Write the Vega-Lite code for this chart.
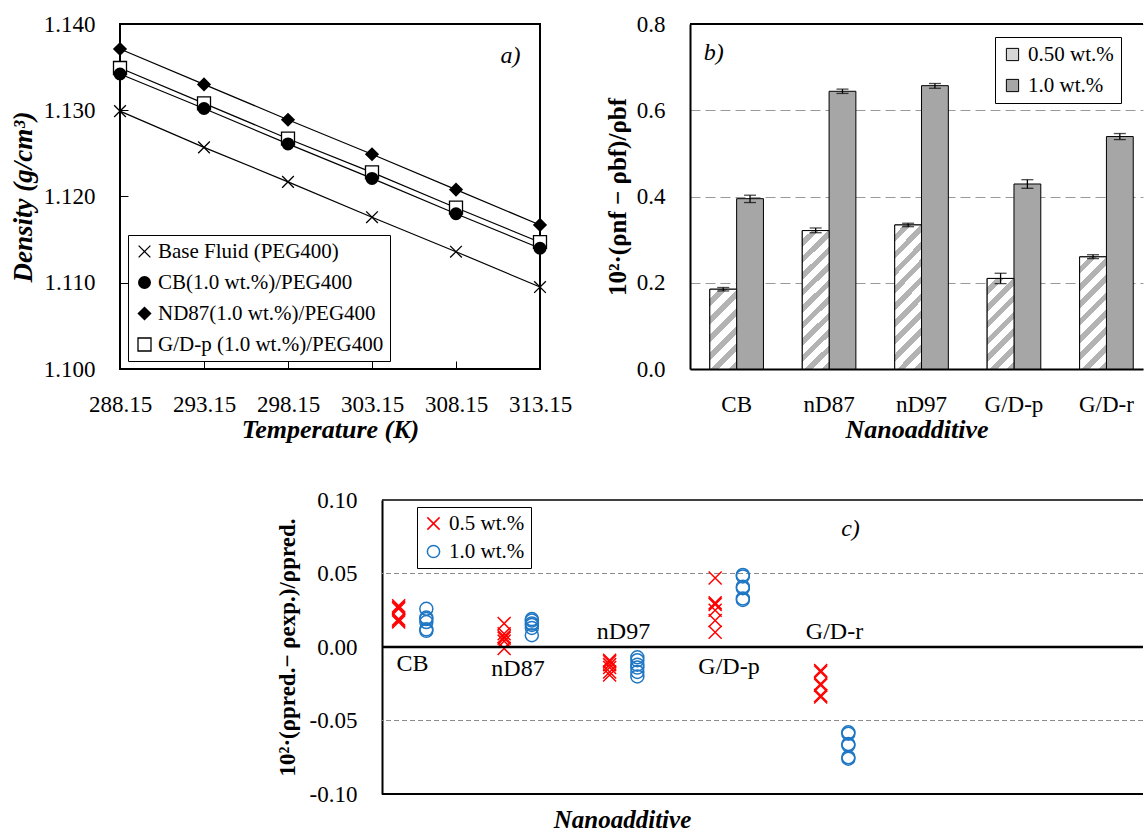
{
  "$schema": "https://vega.github.io/schema/vega-lite/v6.json",
  "background": "white",
  "padding": {"left": 8, "top": 12, "right": 0, "bottom": 0},
  "config": {
    "font": "Liberation Serif",
    "view": {"stroke": null},
    "axis": {"labelFont": "Liberation Serif", "titleFont": "Liberation Serif", "labelColor": "black", "titleColor": "black", "labelFontSize": 23, "titleFontSize": 26, "domainColor": "black", "tickColor": "black", "grid": false, "labelOverlap": false, "labelFlush": false},
    "legend": {"labelFont": "Liberation Serif", "labelColor": "black", "labelFontSize": 21, "titleFont": "Liberation Serif", "labelLimit": 0}
  },
  "datasets": {
    "one": [{"k": 1}],
    "dens": [
      {"series": "Base Fluid (PEG400)", "T": 288.15, "rho": 1.1299},
      {"series": "Base Fluid (PEG400)", "T": 293.15, "rho": 1.1257},
      {"series": "Base Fluid (PEG400)", "T": 298.15, "rho": 1.1217},
      {"series": "Base Fluid (PEG400)", "T": 303.15, "rho": 1.1176},
      {"series": "Base Fluid (PEG400)", "T": 308.15, "rho": 1.1136},
      {"series": "Base Fluid (PEG400)", "T": 313.15, "rho": 1.1095},
      {"series": "CB(1.0 wt.%)/PEG400", "T": 288.15, "rho": 1.1342},
      {"series": "CB(1.0 wt.%)/PEG400", "T": 293.15, "rho": 1.1302},
      {"series": "CB(1.0 wt.%)/PEG400", "T": 298.15, "rho": 1.1261},
      {"series": "CB(1.0 wt.%)/PEG400", "T": 303.15, "rho": 1.1221},
      {"series": "CB(1.0 wt.%)/PEG400", "T": 308.15, "rho": 1.1180},
      {"series": "CB(1.0 wt.%)/PEG400", "T": 313.15, "rho": 1.1140},
      {"series": "ND87(1.0 wt.%)/PEG400", "T": 288.15, "rho": 1.1371},
      {"series": "ND87(1.0 wt.%)/PEG400", "T": 293.15, "rho": 1.1330},
      {"series": "ND87(1.0 wt.%)/PEG400", "T": 298.15, "rho": 1.1289},
      {"series": "ND87(1.0 wt.%)/PEG400", "T": 303.15, "rho": 1.1249},
      {"series": "ND87(1.0 wt.%)/PEG400", "T": 308.15, "rho": 1.1208},
      {"series": "ND87(1.0 wt.%)/PEG400", "T": 313.15, "rho": 1.1167},
      {"series": "G/D-p (1.0 wt.%)/PEG400", "T": 288.15, "rho": 1.1349},
      {"series": "G/D-p (1.0 wt.%)/PEG400", "T": 293.15, "rho": 1.1308},
      {"series": "G/D-p (1.0 wt.%)/PEG400", "T": 298.15, "rho": 1.1267},
      {"series": "G/D-p (1.0 wt.%)/PEG400", "T": 303.15, "rho": 1.1228},
      {"series": "G/D-p (1.0 wt.%)/PEG400", "T": 308.15, "rho": 1.1187},
      {"series": "G/D-p (1.0 wt.%)/PEG400", "T": 313.15, "rho": 1.1147}
    ],
    "rel": [
      {"nano": "CB", "conc": "0.50 wt.%", "val": 0.185, "lo": 0.181, "hi": 0.189},
      {"nano": "CB", "conc": "1.0 wt.%", "val": 0.395, "lo": 0.386, "hi": 0.403},
      {"nano": "nD87", "conc": "0.50 wt.%", "val": 0.321, "lo": 0.316, "hi": 0.327},
      {"nano": "nD87", "conc": "1.0 wt.%", "val": 0.644, "lo": 0.639, "hi": 0.649},
      {"nano": "nD97", "conc": "0.50 wt.%", "val": 0.334, "lo": 0.330, "hi": 0.338},
      {"nano": "nD97", "conc": "1.0 wt.%", "val": 0.657, "lo": 0.651, "hi": 0.662},
      {"nano": "G/D-p", "conc": "0.50 wt.%", "val": 0.210, "lo": 0.198, "hi": 0.222},
      {"nano": "G/D-p", "conc": "1.0 wt.%", "val": 0.429, "lo": 0.419, "hi": 0.439},
      {"nano": "G/D-r", "conc": "0.50 wt.%", "val": 0.260, "lo": 0.256, "hi": 0.265},
      {"nano": "G/D-r", "conc": "1.0 wt.%", "val": 0.539, "lo": 0.532, "hi": 0.546}
    ],
    "dev": [
      {"nano": "CB", "conc": "0.5 wt.%", "dev": 0.028},
      {"nano": "CB", "conc": "0.5 wt.%", "dev": 0.027},
      {"nano": "CB", "conc": "0.5 wt.%", "dev": 0.026},
      {"nano": "CB", "conc": "0.5 wt.%", "dev": 0.019},
      {"nano": "CB", "conc": "0.5 wt.%", "dev": 0.018},
      {"nano": "CB", "conc": "0.5 wt.%", "dev": 0.017},
      {"nano": "CB", "conc": "1.0 wt.%", "dev": 0.026},
      {"nano": "CB", "conc": "1.0 wt.%", "dev": 0.020},
      {"nano": "CB", "conc": "1.0 wt.%", "dev": 0.019},
      {"nano": "CB", "conc": "1.0 wt.%", "dev": 0.017},
      {"nano": "CB", "conc": "1.0 wt.%", "dev": 0.012},
      {"nano": "CB", "conc": "1.0 wt.%", "dev": 0.011},
      {"nano": "nD87", "conc": "0.5 wt.%", "dev": 0.016},
      {"nano": "nD87", "conc": "0.5 wt.%", "dev": 0.009},
      {"nano": "nD87", "conc": "0.5 wt.%", "dev": 0.007},
      {"nano": "nD87", "conc": "0.5 wt.%", "dev": 0.006},
      {"nano": "nD87", "conc": "0.5 wt.%", "dev": 0.004},
      {"nano": "nD87", "conc": "0.5 wt.%", "dev": -0.001},
      {"nano": "nD87", "conc": "1.0 wt.%", "dev": 0.019},
      {"nano": "nD87", "conc": "1.0 wt.%", "dev": 0.018},
      {"nano": "nD87", "conc": "1.0 wt.%", "dev": 0.016},
      {"nano": "nD87", "conc": "1.0 wt.%", "dev": 0.015},
      {"nano": "nD87", "conc": "1.0 wt.%", "dev": 0.013},
      {"nano": "nD87", "conc": "1.0 wt.%", "dev": 0.008},
      {"nano": "nD97", "conc": "0.5 wt.%", "dev": -0.009},
      {"nano": "nD97", "conc": "0.5 wt.%", "dev": -0.010},
      {"nano": "nD97", "conc": "0.5 wt.%", "dev": -0.012},
      {"nano": "nD97", "conc": "0.5 wt.%", "dev": -0.014},
      {"nano": "nD97", "conc": "0.5 wt.%", "dev": -0.017},
      {"nano": "nD97", "conc": "0.5 wt.%", "dev": -0.019},
      {"nano": "nD97", "conc": "1.0 wt.%", "dev": -0.007},
      {"nano": "nD97", "conc": "1.0 wt.%", "dev": -0.009},
      {"nano": "nD97", "conc": "1.0 wt.%", "dev": -0.012},
      {"nano": "nD97", "conc": "1.0 wt.%", "dev": -0.014},
      {"nano": "nD97", "conc": "1.0 wt.%", "dev": -0.017},
      {"nano": "nD97", "conc": "1.0 wt.%", "dev": -0.020},
      {"nano": "G/D-p", "conc": "0.5 wt.%", "dev": 0.047},
      {"nano": "G/D-p", "conc": "0.5 wt.%", "dev": 0.030},
      {"nano": "G/D-p", "conc": "0.5 wt.%", "dev": 0.029},
      {"nano": "G/D-p", "conc": "0.5 wt.%", "dev": 0.025},
      {"nano": "G/D-p", "conc": "0.5 wt.%", "dev": 0.018},
      {"nano": "G/D-p", "conc": "0.5 wt.%", "dev": 0.010},
      {"nano": "G/D-p", "conc": "1.0 wt.%", "dev": 0.049},
      {"nano": "G/D-p", "conc": "1.0 wt.%", "dev": 0.048},
      {"nano": "G/D-p", "conc": "1.0 wt.%", "dev": 0.041},
      {"nano": "G/D-p", "conc": "1.0 wt.%", "dev": 0.040},
      {"nano": "G/D-p", "conc": "1.0 wt.%", "dev": 0.033},
      {"nano": "G/D-p", "conc": "1.0 wt.%", "dev": 0.032},
      {"nano": "G/D-r", "conc": "0.5 wt.%", "dev": -0.016},
      {"nano": "G/D-r", "conc": "0.5 wt.%", "dev": -0.017},
      {"nano": "G/D-r", "conc": "0.5 wt.%", "dev": -0.025},
      {"nano": "G/D-r", "conc": "0.5 wt.%", "dev": -0.026},
      {"nano": "G/D-r", "conc": "0.5 wt.%", "dev": -0.033},
      {"nano": "G/D-r", "conc": "0.5 wt.%", "dev": -0.034},
      {"nano": "G/D-r", "conc": "1.0 wt.%", "dev": -0.058},
      {"nano": "G/D-r", "conc": "1.0 wt.%", "dev": -0.059},
      {"nano": "G/D-r", "conc": "1.0 wt.%", "dev": -0.066},
      {"nano": "G/D-r", "conc": "1.0 wt.%", "dev": -0.067},
      {"nano": "G/D-r", "conc": "1.0 wt.%", "dev": -0.075},
      {"nano": "G/D-r", "conc": "1.0 wt.%", "dev": -0.076}
    ],
    "clab": [
      {"nano": "CB", "ly": -0.0113},
      {"nano": "nD87", "ly": -0.0152},
      {"nano": "nD97", "ly": 0.0103},
      {"nano": "G/D-p", "ly": -0.0135},
      {"nano": "G/D-r", "ly": 0.0103}
    ]
  },
  "spacing": 46,
  "resolve": {"scale": {"x": "independent", "y": "independent", "xOffset": "independent", "shape": "independent", "fill": "independent", "color": "independent"}, "legend": {"shape": "independent", "fill": "independent", "color": "independent"}},
  "vconcat": [
    {
      "spacing": 150,
      "bounds": "flush",
      "resolve": {"scale": {"x": "independent", "y": "independent", "xOffset": "independent", "shape": "independent", "fill": "independent", "color": "independent"}, "legend": {"shape": "independent", "fill": "independent", "color": "independent"}},
      "hconcat": [
        {
          "width": 420,
          "height": 345,
          "view": {"stroke": "black", "strokeWidth": 2},
          "layer": [
            {
              "data": {"name": "dens"},
              "mark": {"type": "line", "color": "black", "strokeWidth": 1.2},
              "encoding": {
                "x": {"field": "T", "type": "quantitative", "scale": {"domain": [288.15, 313.15], "nice": false, "zero": false},
                  "axis": {"values": [288.15, 293.15, 298.15, 303.15, 308.15, 313.15], "format": ".2f", "title": "Temperature (K)", "titleFontStyle": "italic", "titleFontWeight": "bold", "domain": false, "tickSize": -8, "labelPadding": 32, "titlePadding": 0}},
                "y": {"field": "rho", "type": "quantitative", "scale": {"domain": [1.1, 1.14], "nice": false, "zero": false},
                  "axis": {"values": [1.1, 1.11, 1.12, 1.13, 1.14], "format": ".3f", "title": "Density (g/cm³)", "titleFontStyle": "italic", "titleFontWeight": "bold", "titleFontSize": 27, "domain": false, "tickSize": -8, "labelPadding": 33, "titlePadding": 6}},
                "detail": {"field": "series"}
              }
            },
            {
              "data": {"name": "dens"},
              "transform": [{"filter": "datum.series === 'G/D-p (1.0 wt.%)/PEG400'"}],
              "mark": {"type": "point", "filled": true, "color": "white", "shape": "square", "size": 150, "opacity": 1},
              "encoding": {
                "x": {"field": "T", "type": "quantitative"},
                "y": {"field": "rho", "type": "quantitative"}
              }
            },
            {
              "data": {"name": "dens"},
              "mark": {"type": "point", "filled": false, "color": "black", "strokeWidth": 1.3, "size": 169, "opacity": 1},
              "encoding": {
                "x": {"field": "T", "type": "quantitative"},
                "y": {"field": "rho", "type": "quantitative"},
                "shape": {"field": "series", "type": "nominal",
                  "scale": {"domain": ["Base Fluid (PEG400)", "CB(1.0 wt.%)/PEG400", "ND87(1.0 wt.%)/PEG400", "G/D-p (1.0 wt.%)/PEG400"], "range": [
                    "M-0.9,-0.9L0.9,0.9M-0.9,0.9L0.9,-0.9",
                    "M0.1,0A0.1,0.1,0,1,1,-0.1,0A0.1,0.1,0,1,1,0.1,0M0.3,0A0.3,0.3,0,1,1,-0.3,0A0.3,0.3,0,1,1,0.3,0M0.5,0A0.5,0.5,0,1,1,-0.5,0A0.5,0.5,0,1,1,0.5,0M0.7,0A0.7,0.7,0,1,1,-0.7,0A0.7,0.7,0,1,1,0.7,0M0.9,0A0.9,0.9,0,1,1,-0.9,0A0.9,0.9,0,1,1,0.9,0",
                    "M-0.1,0L0,-0.1L0.1,0L0,0.1ZM-0.3,0L0,-0.3L0.3,0L0,0.3ZM-0.5,0L0,-0.5L0.5,0L0,0.5ZM-0.7,0L0,-0.7L0.7,0L0,0.7ZM-0.95,0L0,-0.95L0.95,0L0,0.95Z",
                    "square"]},
                  "legend": {"orient": "none", "legendX": 8, "legendY": 211, "title": null, "strokeColor": "black", "fillColor": "white", "padding": 6, "labelFontSize": 21, "symbolSize": 169, "rowPadding": 9, "labelOffset": 3, "symbolStrokeColor": "black", "symbolStrokeWidth": 1.3}}
              }
            },
            {
              "data": {"name": "one"},
              "mark": {"type": "text", "fontStyle": "italic", "fontWeight": "normal", "fontSize": 24, "color": "black"},
              "encoding": {"x": {"datum": 311.4, "type": "quantitative"}, "y": {"datum": 1.1363, "type": "quantitative"}, "text": {"value": "a)"}}
            }
          ]
        },
        {
          "width": 453,
          "height": 345,
          "layer": [
            {
              "data": {"name": "rel"},
              "mark": {"type": "bar", "stroke": "black", "strokeWidth": 1},
              "encoding": {
                "x": {"field": "nano", "type": "nominal", "scale": {"domain": ["CB", "nD87", "nD97", "G/D-p", "G/D-r"], "paddingInner": 0.42, "paddingOuter": 0.16, "align": 0.67},
                  "axis": {"title": "Nanoadditive", "titleFontStyle": "italic", "titleFontWeight": "bold", "labelAngle": 0, "ticks": false, "domainWidth": 2, "labelPadding": 24, "titlePadding": 0}},
                "xOffset": {"field": "conc", "type": "nominal", "scale": {"domain": ["0.50 wt.%", "1.0 wt.%"]}},
                "y": {"field": "val", "type": "quantitative", "scale": {"domain": [0, 0.8], "nice": false},
                  "axis": {"values": [0, 0.2, 0.4, 0.6, 0.8], "format": ".1f", "grid": true, "gridDash": [10, 5], "gridColor": "#999999", "gridWidth": 1.2, "ticks": false, "domainWidth": 2, "labelPadding": 25, "title": "10²·(ρnf − ρbf)/ρbf", "titleFontWeight": "bold", "titleFontSize": 25, "titlePadding": 6}},
                "fill": {"field": "conc", "type": "nominal", "scale": {"domain": ["0.50 wt.%", "1.0 wt.%"], "range": ["#d6d6d6", "#a6a6a6"]},
                  "legend": {"orient": "none", "legendX": 305, "legendY": 13, "title": null, "strokeColor": "black", "fillColor": "white", "padding": 7, "labelFontSize": 21, "symbolType": "square", "symbolSize": 150, "rowPadding": 9, "labelOffset": 5, "symbolStrokeColor": "black", "symbolStrokeWidth": 1}}
              }
            },
            {
              "data": {"name": "rel"},
              "transform": [{"filter": "datum.nano === 'CB' && datum.conc === '0.50 wt.%'"}],
              "mark": {"type": "bar", "stroke": "black", "strokeWidth": 1, "fill": {"gradient": "linear", "x1": 0, "y1": 0, "x2": 0.404, "y2": 1.2006, "stops": [
                {"offset": 0, "color": "white"}, {"offset": 0.0917, "color": "white"}, {"offset": 0.0917, "color": "#b3b3b3"}, {"offset": 0.1667, "color": "#b3b3b3"},
                {"offset": 0.1667, "color": "white"}, {"offset": 0.2583, "color": "white"}, {"offset": 0.2583, "color": "#b3b3b3"}, {"offset": 0.3333, "color": "#b3b3b3"},
                {"offset": 0.3333, "color": "white"}, {"offset": 0.425, "color": "white"}, {"offset": 0.425, "color": "#b3b3b3"}, {"offset": 0.5, "color": "#b3b3b3"},
                {"offset": 0.5, "color": "white"}, {"offset": 0.5917, "color": "white"}, {"offset": 0.5917, "color": "#b3b3b3"}, {"offset": 0.6667, "color": "#b3b3b3"},
                {"offset": 0.6667, "color": "white"}, {"offset": 0.7583, "color": "white"}, {"offset": 0.7583, "color": "#b3b3b3"}, {"offset": 0.8333, "color": "#b3b3b3"},
                {"offset": 0.8333, "color": "white"}, {"offset": 0.925, "color": "white"}, {"offset": 0.925, "color": "#b3b3b3"}, {"offset": 1, "color": "#b3b3b3"}]}},
              "encoding": {
                "x": {"field": "nano", "type": "nominal", "scale": {"domain": ["CB", "nD87", "nD97", "G/D-p", "G/D-r"]}},
                "xOffset": {"field": "conc", "type": "nominal", "scale": {"domain": ["0.50 wt.%", "1.0 wt.%"]}},
                "y": {"field": "val", "type": "quantitative"}
              }
            },
            {
              "data": {"name": "rel"},
              "transform": [{"filter": "(datum.nano === 'nD87' || datum.nano === 'nD97') && datum.conc === '0.50 wt.%'"}],
              "mark": {"type": "bar", "stroke": "black", "strokeWidth": 1, "fill": {"gradient": "linear", "x1": 0, "y1": 0, "x2": 0.218, "y2": 1.148, "stops": [
                {"offset": 0, "color": "white"}, {"offset": 0.055, "color": "white"}, {"offset": 0.055, "color": "#b3b3b3"}, {"offset": 0.1, "color": "#b3b3b3"},
                {"offset": 0.1, "color": "white"}, {"offset": 0.155, "color": "white"}, {"offset": 0.155, "color": "#b3b3b3"}, {"offset": 0.2, "color": "#b3b3b3"},
                {"offset": 0.2, "color": "white"}, {"offset": 0.255, "color": "white"}, {"offset": 0.255, "color": "#b3b3b3"}, {"offset": 0.3, "color": "#b3b3b3"},
                {"offset": 0.3, "color": "white"}, {"offset": 0.355, "color": "white"}, {"offset": 0.355, "color": "#b3b3b3"}, {"offset": 0.4, "color": "#b3b3b3"},
                {"offset": 0.4, "color": "white"}, {"offset": 0.455, "color": "white"}, {"offset": 0.455, "color": "#b3b3b3"}, {"offset": 0.5, "color": "#b3b3b3"},
                {"offset": 0.5, "color": "white"}, {"offset": 0.555, "color": "white"}, {"offset": 0.555, "color": "#b3b3b3"}, {"offset": 0.6, "color": "#b3b3b3"},
                {"offset": 0.6, "color": "white"}, {"offset": 0.655, "color": "white"}, {"offset": 0.655, "color": "#b3b3b3"}, {"offset": 0.7, "color": "#b3b3b3"},
                {"offset": 0.7, "color": "white"}, {"offset": 0.755, "color": "white"}, {"offset": 0.755, "color": "#b3b3b3"}, {"offset": 0.8, "color": "#b3b3b3"},
                {"offset": 0.8, "color": "white"}, {"offset": 0.855, "color": "white"}, {"offset": 0.855, "color": "#b3b3b3"}, {"offset": 0.9, "color": "#b3b3b3"},
                {"offset": 0.9, "color": "white"}, {"offset": 0.955, "color": "white"}, {"offset": 0.955, "color": "#b3b3b3"}, {"offset": 1, "color": "#b3b3b3"}]}},
              "encoding": {
                "x": {"field": "nano", "type": "nominal", "scale": {"domain": ["CB", "nD87", "nD97", "G/D-p", "G/D-r"]}},
                "xOffset": {"field": "conc", "type": "nominal", "scale": {"domain": ["0.50 wt.%", "1.0 wt.%"]}},
                "y": {"field": "val", "type": "quantitative"}
              }
            },
            {
              "data": {"name": "rel"},
              "transform": [{"filter": "datum.nano === 'G/D-p' && datum.conc === '0.50 wt.%'"}],
              "mark": {"type": "bar", "stroke": "black", "strokeWidth": 1, "fill": {"gradient": "linear", "x1": 0, "y1": 0, "x2": 0.3532, "y2": 1.1917, "stops": [
                {"offset": 0, "color": "white"}, {"offset": 0.0786, "color": "white"}, {"offset": 0.0786, "color": "#b3b3b3"}, {"offset": 0.1429, "color": "#b3b3b3"},
                {"offset": 0.1429, "color": "white"}, {"offset": 0.2214, "color": "white"}, {"offset": 0.2214, "color": "#b3b3b3"}, {"offset": 0.2857, "color": "#b3b3b3"},
                {"offset": 0.2857, "color": "white"}, {"offset": 0.3643, "color": "white"}, {"offset": 0.3643, "color": "#b3b3b3"}, {"offset": 0.4286, "color": "#b3b3b3"},
                {"offset": 0.4286, "color": "white"}, {"offset": 0.5071, "color": "white"}, {"offset": 0.5071, "color": "#b3b3b3"}, {"offset": 0.5714, "color": "#b3b3b3"},
                {"offset": 0.5714, "color": "white"}, {"offset": 0.65, "color": "white"}, {"offset": 0.65, "color": "#b3b3b3"}, {"offset": 0.7143, "color": "#b3b3b3"},
                {"offset": 0.7143, "color": "white"}, {"offset": 0.7929, "color": "white"}, {"offset": 0.7929, "color": "#b3b3b3"}, {"offset": 0.8571, "color": "#b3b3b3"},
                {"offset": 0.8571, "color": "white"}, {"offset": 0.9357, "color": "white"}, {"offset": 0.9357, "color": "#b3b3b3"}, {"offset": 1, "color": "#b3b3b3"}]}},
              "encoding": {
                "x": {"field": "nano", "type": "nominal", "scale": {"domain": ["CB", "nD87", "nD97", "G/D-p", "G/D-r"]}},
                "xOffset": {"field": "conc", "type": "nominal", "scale": {"domain": ["0.50 wt.%", "1.0 wt.%"]}},
                "y": {"field": "val", "type": "quantitative"}
              }
            },
            {
              "data": {"name": "rel"},
              "transform": [{"filter": "datum.nano === 'G/D-r' && datum.conc === '0.50 wt.%'"}],
              "mark": {"type": "bar", "stroke": "black", "strokeWidth": 1, "fill": {"gradient": "linear", "x1": 0, "y1": 0, "x2": 0.2808, "y2": 1.1723, "stops": [
                {"offset": 0, "color": "white"}, {"offset": 0.0688, "color": "white"}, {"offset": 0.0688, "color": "#b3b3b3"}, {"offset": 0.125, "color": "#b3b3b3"},
                {"offset": 0.125, "color": "white"}, {"offset": 0.1938, "color": "white"}, {"offset": 0.1938, "color": "#b3b3b3"}, {"offset": 0.25, "color": "#b3b3b3"},
                {"offset": 0.25, "color": "white"}, {"offset": 0.3188, "color": "white"}, {"offset": 0.3188, "color": "#b3b3b3"}, {"offset": 0.375, "color": "#b3b3b3"},
                {"offset": 0.375, "color": "white"}, {"offset": 0.4438, "color": "white"}, {"offset": 0.4438, "color": "#b3b3b3"}, {"offset": 0.5, "color": "#b3b3b3"},
                {"offset": 0.5, "color": "white"}, {"offset": 0.5688, "color": "white"}, {"offset": 0.5688, "color": "#b3b3b3"}, {"offset": 0.625, "color": "#b3b3b3"},
                {"offset": 0.625, "color": "white"}, {"offset": 0.6938, "color": "white"}, {"offset": 0.6938, "color": "#b3b3b3"}, {"offset": 0.75, "color": "#b3b3b3"},
                {"offset": 0.75, "color": "white"}, {"offset": 0.8188, "color": "white"}, {"offset": 0.8188, "color": "#b3b3b3"}, {"offset": 0.875, "color": "#b3b3b3"},
                {"offset": 0.875, "color": "white"}, {"offset": 0.9438, "color": "white"}, {"offset": 0.9438, "color": "#b3b3b3"}, {"offset": 1, "color": "#b3b3b3"}]}},
              "encoding": {
                "x": {"field": "nano", "type": "nominal", "scale": {"domain": ["CB", "nD87", "nD97", "G/D-p", "G/D-r"]}},
                "xOffset": {"field": "conc", "type": "nominal", "scale": {"domain": ["0.50 wt.%", "1.0 wt.%"]}},
                "y": {"field": "val", "type": "quantitative"}
              }
            },
            {
              "data": {"name": "rel"},
              "mark": {"type": "rule", "color": "black", "strokeWidth": 1.3},
              "encoding": {
                "x": {"field": "nano", "type": "nominal", "scale": {"domain": ["CB", "nD87", "nD97", "G/D-p", "G/D-r"]}},
                "xOffset": {"field": "conc", "type": "nominal", "scale": {"domain": ["0.50 wt.%", "1.0 wt.%"]}},
                "y": {"field": "lo", "type": "quantitative"},
                "y2": {"field": "hi"}
              }
            },
            {
              "data": {"name": "rel"},
              "mark": {"type": "tick", "orient": "horizontal", "color": "black", "thickness": 1.3, "size": 12},
              "encoding": {
                "x": {"field": "nano", "type": "nominal", "scale": {"domain": ["CB", "nD87", "nD97", "G/D-p", "G/D-r"]}},
                "xOffset": {"field": "conc", "type": "nominal", "scale": {"domain": ["0.50 wt.%", "1.0 wt.%"]}},
                "y": {"field": "lo", "type": "quantitative"}
              }
            },
            {
              "data": {"name": "rel"},
              "mark": {"type": "tick", "orient": "horizontal", "color": "black", "thickness": 1.3, "size": 12},
              "encoding": {
                "x": {"field": "nano", "type": "nominal", "scale": {"domain": ["CB", "nD87", "nD97", "G/D-p", "G/D-r"]}},
                "xOffset": {"field": "conc", "type": "nominal", "scale": {"domain": ["0.50 wt.%", "1.0 wt.%"]}},
                "y": {"field": "hi", "type": "quantitative"}
              }
            },
            {
              "data": {"name": "one"},
              "mark": {"type": "rule", "color": "black", "strokeWidth": 2},
              "encoding": {"y": {"datum": 0.8, "type": "quantitative"}}
            },
            {
              "data": {"name": "one"},
              "mark": {"type": "text", "fontStyle": "italic", "fontWeight": "normal", "fontSize": 24, "color": "black", "align": "left", "dx": -6},
              "encoding": {"x": {"datum": "CB", "type": "nominal", "bandPosition": 0}, "y": {"datum": 0.733, "type": "quantitative"}, "text": {"value": "b)"}}
            }
          ]
        }
      ]
    },
    {
      "spacing": 150,
      "bounds": "flush",
      "resolve": {"scale": {"x": "independent", "y": "independent", "xOffset": "independent", "shape": "independent", "fill": "independent", "color": "independent"}, "legend": {"shape": "independent", "fill": "independent", "color": "independent"}},
      "hconcat": [
        {
          "width": 112,
          "height": 10,
          "data": {"values": []},
          "mark": {"type": "point", "opacity": 0},
          "encoding": {}
        },
        {
          "width": 761,
          "height": 294,
          "layer": [
            {
              "data": {"name": "one"},
              "mark": {"type": "rule", "color": "#8c8c8c", "strokeWidth": 1, "strokeDash": [5, 3]},
              "encoding": {"y": {"datum": 0.05, "type": "quantitative"}}
            },
            {
              "data": {"name": "one"},
              "mark": {"type": "rule", "color": "#8c8c8c", "strokeWidth": 1, "strokeDash": [5, 3]},
              "encoding": {"y": {"datum": -0.05, "type": "quantitative"}}
            },
            {
              "data": {"name": "dev"},
              "mark": {"type": "point", "filled": false, "size": 169, "strokeWidth": 1.5, "opacity": 1},
              "encoding": {
                "x": {"field": "nano", "type": "nominal", "scale": {"domain": ["CB", "nD87", "nD97", "G/D-p", "G/D-r"], "range": [2.8, 480.2], "paddingInner": 0.475, "paddingOuter": 0},
                  "axis": {"title": "Nanoadditive", "titleFontStyle": "italic", "titleFontWeight": "bold", "titleFontSize": 25, "labels": false, "ticks": false, "domain": false, "titleX": 240, "titlePadding": 13}},
                "xOffset": {"field": "conc", "type": "nominal", "scale": {"domain": ["0.5 wt.%", "1.0 wt.%"]}},
                "y": {"field": "dev", "type": "quantitative", "scale": {"domain": [-0.1, 0.1], "nice": false},
                  "axis": {"values": [-0.1, -0.05, 0, 0.05, 0.1], "format": ".2f", "labelExpr": "replace(datum.label, '−', '-')", "grid": false, "ticks": false, "domainWidth": 2, "labelPadding": 25, "title": "10²·(ρpred.− ρexp.)/ρpred.", "titleFontWeight": "bold", "titleFontSize": 23, "titlePadding": 10}},
                "shape": {"field": "conc", "type": "nominal", "scale": {"domain": ["0.5 wt.%", "1.0 wt.%"], "range": ["M-1,-1L1,1M-1,1L1,-1", "circle"]},
                  "legend": {"orient": "none", "legendX": 35, "legendY": 7, "title": null, "strokeColor": "black", "fillColor": "white", "padding": 6, "labelFontSize": 21, "symbolSize": 150, "symbolStrokeWidth": 1.5, "rowPadding": 6, "labelOffset": 5}},
                "color": {"field": "conc", "type": "nominal", "scale": {"domain": ["0.5 wt.%", "1.0 wt.%"], "range": ["#ff0000", "#1f77c4"]},
                  "legend": {"orient": "none", "legendX": 35, "legendY": 7, "title": null, "strokeColor": "black", "fillColor": "white", "padding": 6, "labelFontSize": 21, "symbolSize": 150, "symbolStrokeWidth": 1.5, "rowPadding": 6, "labelOffset": 5}}
              }
            },
            {
              "data": {"name": "one"},
              "mark": {"type": "rule", "color": "black", "strokeWidth": 1.5},
              "encoding": {"y": {"datum": 0.1, "type": "quantitative"}}
            },
            {
              "data": {"name": "one"},
              "mark": {"type": "rule", "color": "black", "strokeWidth": 2},
              "encoding": {"y": {"datum": -0.1, "type": "quantitative"}}
            },
            {
              "data": {"name": "one"},
              "mark": {"type": "rule", "color": "black", "strokeWidth": 2.5},
              "encoding": {"y": {"datum": 0, "type": "quantitative"}}
            },
            {
              "data": {"name": "clab"},
              "mark": {"type": "text", "fontSize": 24, "color": "black", "baseline": "middle"},
              "encoding": {
                "x": {"field": "nano", "type": "nominal"},
                "y": {"field": "ly", "type": "quantitative"},
                "text": {"field": "nano"}
              }
            },
            {
              "data": {"name": "one"},
              "mark": {"type": "text", "fontStyle": "italic", "fontWeight": "normal", "fontSize": 24, "color": "black", "dx": 16},
              "encoding": {"x": {"datum": "G/D-r", "type": "nominal"}, "y": {"datum": 0.08, "type": "quantitative"}, "text": {"value": "c)"}}
            }
          ]
        }
      ]
    }
  ]
}
